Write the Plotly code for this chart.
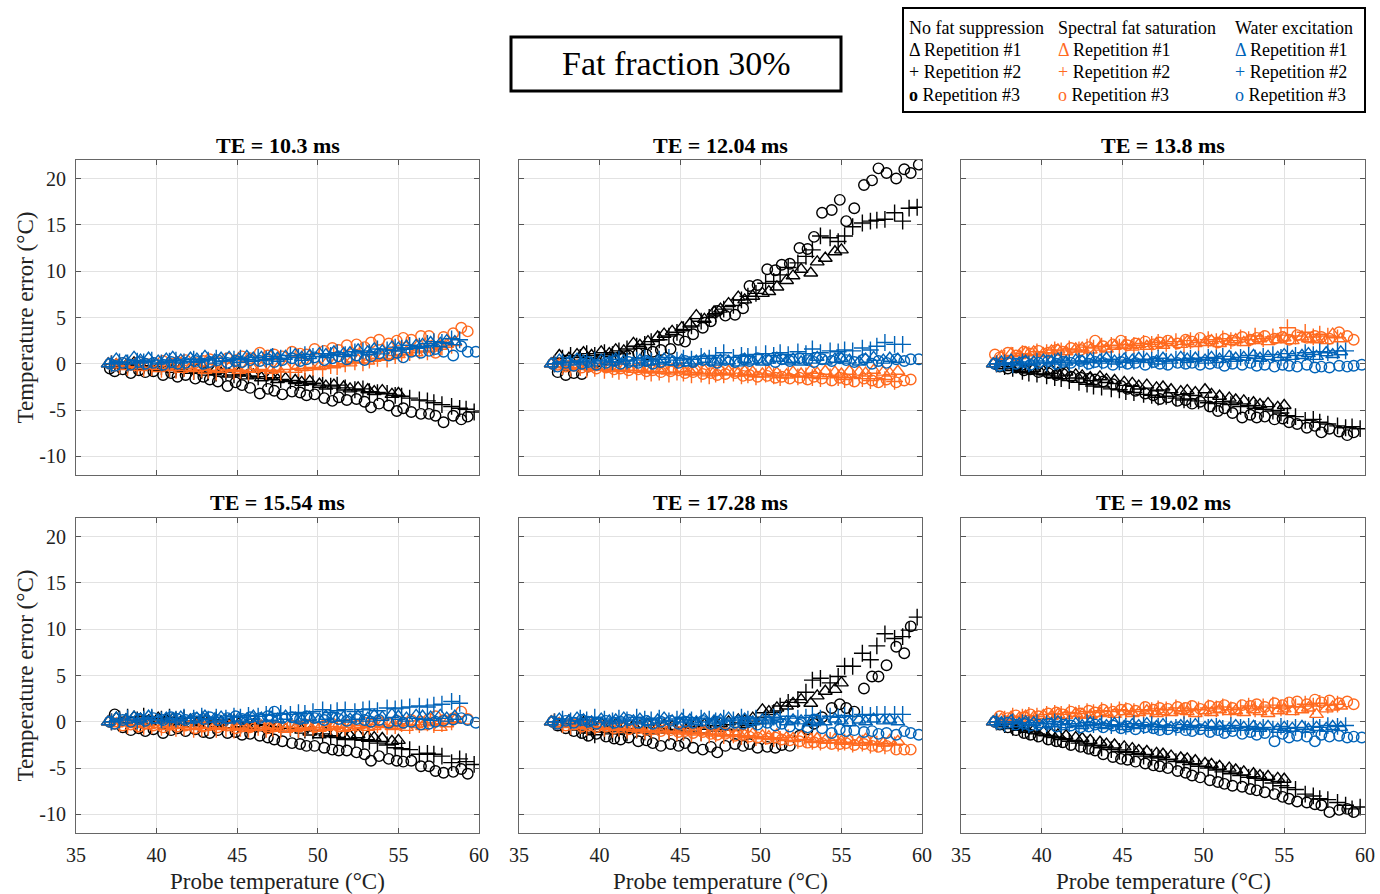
import plotly.graph_objects as go

# probe temperature samples (deg C) for the three repetitions
XA = [37.0, 37.5, 38.1, 38.6, 39.0, 39.5, 40.1, 40.6, 41.0, 41.5, 42.1, 42.5, 43.0, 43.6, 44.0, 44.5,
      45.1, 45.6, 46.0, 46.5, 47.1, 47.5, 48.0, 48.6, 49.0, 49.5, 50.1, 50.5, 51.0, 51.6, 52.0, 52.5,
      53.1, 53.5, 54.0, 54.6, 55.0, 55.5, 56.1, 56.5, 57.0, 57.6, 58.0, 58.5, 59.1, 59.5, 60.0]
XB = [37.2, 37.7, 38.2, 38.8, 39.2, 39.7, 40.3, 40.8, 41.2, 41.7, 42.3, 42.8, 43.2, 43.7, 44.3, 44.8,
      45.2, 45.7, 46.3, 46.8, 47.2, 47.7, 48.3, 48.8, 49.2, 49.7, 50.3, 50.8, 51.2, 51.7, 52.3, 52.8,
      53.2, 53.7, 54.3, 54.8, 55.2, 55.7, 56.3, 56.8, 57.2, 57.7, 58.3, 58.8, 59.2, 59.7]
XC = [37.1, 37.4, 37.9, 38.4, 38.9, 39.3, 39.8, 40.4, 40.9, 41.3, 41.8, 42.4, 42.9, 43.3, 43.8, 44.4,
      44.9, 45.3, 45.8, 46.4, 46.9, 47.3, 47.8, 48.4, 48.9, 49.3, 49.8, 50.4, 50.9, 51.3, 51.8, 52.4,
      52.9, 53.3, 53.8, 54.4, 54.9, 55.3, 55.8, 56.4, 56.9, 57.3, 57.8, 58.4, 58.9, 59.3, 59.8]

TE_TITLES = ["TE = 10.3 ms", "TE = 12.04 ms", "TE = 13.8 ms",
             "TE = 15.54 ms", "TE = 17.28 ms", "TE = 19.02 ms"]
METHODS = ["No fat suppression", "Spectral fat saturation", "Water excitation"]
REPS = ["Repetition #1", "Repetition #2", "Repetition #3"]
Y_TICKS = [-10, -5, 0, 5, 10, 15, 20]
Y_TICK_TEXT = ["-10", "-5", "0", "5", "10", "15", "20"]

# ---- TE 10.3 ms ----
TE1030_NOFS_R1 = [0.0, -0.1, -0.2, 0.1, -0.3, -0.2, -0.4, -0.3, -0.6, -0.5, -0.7, -0.6, -0.9, -0.8, -1.0, -1.1,
                  -1.0, -1.3, -1.2, -1.5, -1.4, -1.7, -1.6, -1.8, -2.0, -1.9, -2.2, -2.4, -2.3, -2.5, -2.7, -2.6,
                  -2.8, -3.0, -2.9, -3.3, -3.2]
TE1030_NOFS_R2 = [0.0, -0.2, -0.1, -0.3, -0.2, -0.4, -0.3, -0.5, -0.6, -0.5, -0.8, -0.7, -0.9, -1.0, -0.9, -1.2,
                  -1.1, -1.3, -1.4, -1.6, -1.5, -1.7, -1.8, -2.0, -1.9, -2.1, -2.3, -2.4, -2.3, -2.6, -2.8, -2.7,
                  -3.0, -3.1, -3.2, -3.4, -3.5, -3.7, -3.9, -4.0, -4.2, -4.4, -4.6, -4.8, -4.9, -5.2]
TE1030_NOFS_R3 = [-0.5, -0.8, -0.6, -1.0, -0.7, -0.9, -0.8, -1.2, -1.0, -1.4, -1.2, -1.6, -1.4, -1.7, -1.9, -2.4,
                  -2.0, -2.3, -2.6, -3.2, -2.7, -2.9, -3.3, -3.0, -3.1, -3.4, -3.3, -3.7, -4.0, -3.6, -3.9, -3.8,
                  -4.1, -4.7, -4.3, -4.5, -5.1, -4.8, -5.2, -5.4, -5.4, -5.6, -6.3, -5.6, -6.0, -5.7]
TE1030_SFS_R1 = [0.0, -0.1, -0.3, -0.1, -0.4, -0.2, -0.5, -0.3, -0.4, -0.6, -0.4, -0.5, -0.7, -0.5, -0.6, -0.4,
                 -0.7, -0.5, -0.6, -0.4, -0.7, -0.5, -0.3, -0.6, -0.4, -0.2, -0.3, 0.0, -0.1, 0.2, 0.1, 0.4,
                 0.3, 0.6, 0.7, 0.9, 1.0, 1.3, 1.2, 1.6, 1.7, 1.9, 2.1, 2.3]
TE1030_SFS_R2 = [0.0, -0.2, -0.4, -0.3, -0.5, -0.4, -0.6, -0.5, -0.7, -0.5, -0.8, -0.6, -0.7, -0.9, -0.6, -0.8,
                 -0.7, -0.9, -0.6, -0.8, -0.7, -0.9, -0.6, -0.5, -0.7, -0.4, -0.5, -0.2, -0.3, 0.0, 0.2, 0.1,
                 0.4, 0.6, 0.5, 0.9, 1.0, 1.2, 1.4, 1.3, 1.7, 1.8, 2.0]
TE1030_SFS_R3 = [0.0, -0.2, 0.1, -0.1, 0.2, 0.0, 0.1, 0.3, 0.0, 0.2, 0.4, 0.1, 0.3, 0.5, 0.2, 0.6,
                 0.4, 0.8, 0.6, 1.2, 0.9, 1.0, 0.8, 1.3, 1.1, 1.0, 1.6, 1.4, 1.7, 1.5, 2.0, 2.1,
                 1.8, 2.3, 2.6, 2.2, 2.5, 2.8, 2.6, 3.0, 3.0, 1.2, 2.9, 3.3, 3.9, 3.5]
TE1030_WE_R1 = [0.0, 0.5, 0.3, 0.7, 0.4, 0.6, 0.3, 0.5, 0.7, 0.4, 0.6, 0.5, 0.8, 0.4, 0.6, 0.7,
                0.5, 0.8, 0.6, 0.7, 0.9, 0.6, 0.8, 1.0, 0.7, 0.9, 1.1, 1.0, 1.3, 1.1, 1.2, 1.5,
                1.3, 1.6, 1.4, 1.8, 1.7, 1.9, 2.0, 2.1, 2.3, 2.2, 2.5, 2.4]
TE1030_WE_R2 = [0.0, 0.2, 0.1, 0.3, 0.2, 0.4, 0.1, 0.3, 0.4, 0.2, 0.5, 0.3, 0.4, 0.6, 0.3, 0.5,
                0.6, 0.4, 0.7, 0.5, 0.8, 0.6, 0.9, 0.7, 1.0, 0.8, 1.1, 0.9, 1.2, 1.0, 1.3, 1.4,
                1.2, 1.6, 1.5, 1.8, 1.7, 2.0, 1.9, 2.2, 2.4, 2.3, 2.7, 2.6]
TE1030_WE_R3 = [0.0, -0.2, 0.1, -0.1, 0.2, 0.0, 0.1, -0.1, 0.2, 0.0, 0.1, 0.3, 0.0, 0.2, 0.4, 0.1,
                0.3, 0.2, 0.4, 0.3, 0.5, 0.2, 0.4, 0.6, 0.3, 0.5, 0.7, 0.4, 0.6, 0.8, 0.5, 0.9,
                0.4, 0.8, 1.1, 0.9, 1.2, 0.7, 1.3, 1.2, 1.4, 1.6, 1.3, 0.9, 1.9, 1.3, 1.3]

# ---- TE 12.04 ms ----
TE1204_NOFS_R1 = [0.0, 0.9, 0.6, 1.0, 1.2, 0.9, 1.3, 1.1, 1.5, 1.4, 2.2, 2.0, 2.4, 2.9, 3.2, 3.5,
                  3.9, 4.3, 5.2, 4.8, 5.6, 5.9, 6.5, 7.2, 6.9, 7.3, 7.6, 7.8, 8.3, 9.0, 9.5, 10.2,
                  9.8, 11.0, 11.4, 12.1, 12.3]
TE1204_NOFS_R2 = [0.0, 0.6, 0.9, 0.7, 1.1, 0.9, 1.2, 1.0, 1.4, 1.6, 1.9, 2.1, 2.4, 2.6, 3.0, 3.4,
                  3.7, 4.1, 4.6, 5.0, 5.4, 5.9, 6.3, 6.9, 7.3, 7.6, 8.7, 8.9, 9.6, 10.4, 10.9, 11.6,
                  12.3, 13.8, 13.6, 13.2, 13.8, 14.8, 15.2, 15.4, 15.5, 15.6, 16.3, 15.4, 16.8, 16.9]
TE1204_NOFS_R3 = [0.0, -0.9, -1.2, -1.0, -1.1, -0.3, 0.2, 0.5, 0.4, 0.8, 0.9, 1.1, 1.0, 1.3, 1.5, 1.6,
                  2.6, 2.4, 3.2, 3.9, 4.6, 5.7, 5.2, 5.3, 6.0, 8.4, 8.5, 10.2, 10.1, 10.7, 10.8, 12.5,
                  12.4, 13.7, 16.3, 16.6, 17.7, 15.4, 16.8, 19.3, 19.8, 21.1, 20.6, 20.0, 21.0, 20.6, 21.5]
TE1204_SFS_R1 = [0.0, -0.1, -0.3, -0.2, -0.3, -0.4, -0.3, -0.5, -0.4, -0.5, -0.6, -0.4, -0.6, -0.5, -0.7, -0.6,
                 -0.5, -0.8, -0.6, -0.7, -0.9, -0.7, -0.8, -1.0, -0.8, -0.9, -1.1, -0.9, -1.0, -1.2, -0.9, -1.1,
                 -0.7, -1.0, -0.8, -0.9, -1.1, -0.8, -0.9, -1.0, -0.7, -0.9, -1.0, -0.8]
TE1204_SFS_R2 = [0.0, -0.3, -0.5, -0.4, -0.6, -0.5, -0.7, -0.6, -0.8, -0.7, -0.9, -0.8, -1.0, -0.9, -1.1, -0.9,
                 -1.0, -1.2, -1.1, -1.3, -1.1, -1.2, -1.0, -1.3, -1.2, -1.4, -1.1, -1.3, -1.5, -1.2, -1.4, -1.3,
                 -1.5, -1.6, -1.4, -1.5, -1.7, -1.5, -1.6, -1.8, -1.6, -1.7, -1.9]
TE1204_SFS_R3 = [0.0, -0.1, -0.3, -0.2, -0.4, -0.3, -0.5, -0.4, -0.6, -0.5, -0.7, -0.6, -0.8, -0.7, -0.9, -0.8,
                 -0.7, -1.0, -0.9, -1.1, -1.0, -1.2, -1.1, -1.0, -1.3, -1.2, -1.4, -1.3, -1.5, -1.4, -1.6, -1.5,
                 -1.7, -1.4, -1.6, -1.8, -1.5, -1.7, -1.9, -1.6, -1.8, -2.0, -1.7, -2.0, -1.8, -1.7]
TE1204_WE_R1 = [0.0, 0.4, 0.2, 0.5, 0.3, 0.1, 0.4, 0.2, 0.5, 0.3, 0.1, 0.4, 0.2, 0.3, 0.5, 0.2,
                0.4, 0.1, 0.3, 0.5, 0.2, 0.4, 0.3, 0.1, 0.5, 0.3, 0.2, 0.4, 0.6, 0.3, 0.5, 0.2,
                0.4, 0.7, 0.3, 0.5, 0.6, 0.4, 0.2, 0.5, 0.7, 0.4, 0.6, 0.5]
TE1204_WE_R2 = [0.0, 0.2, 0.1, 0.3, 0.2, 0.4, 0.3, 0.2, 0.5, 0.3, 0.4, 0.6, 0.3, 0.5, 0.7, 0.4,
                0.6, 0.5, 0.8, 0.6, 0.9, 1.2, 0.7, 0.9, 0.8, 1.0, 1.1, 0.9, 1.2, 1.0, 1.3, 1.1,
                1.6, 1.2, 1.4, 1.3, 1.5, 1.4, 1.7, 1.5, 1.9, 2.3, 2.1, 2.1]
TE1204_WE_R3 = [0.0, -0.3, 0.1, -0.2, 0.0, 0.2, -0.1, 0.1, 0.3, 0.0, 0.2, 0.1, 0.3, 0.0, 0.2, 0.4,
                0.1, 0.3, 0.2, 0.4, 0.3, 0.1, 0.4, 0.2, 0.5, 0.3, 0.6, 0.4, 0.2, 0.5, 0.3, 0.6,
                0.4, 0.2, 0.5, 0.3, 0.6, 0.4, 0.2, 0.5, 0.0, 0.3, 0.1, 0.5, 0.3, 0.5, 0.5]

# ---- TE 13.8 ms ----
TE1380_NOFS_R1 = [0.0, -0.2, -0.4, -0.3, -0.6, -0.5, -0.8, -0.7, -1.0, -0.9, -1.2, -1.3, -1.5, -1.4, -1.7, -1.8,
                  -2.0, -2.1, -2.4, -2.3, -2.6, -2.5, -2.8, -3.0, -2.9, -3.1, -2.8, -3.3, -3.5, -3.7, -3.9, -4.0,
                  -4.2, -4.4, -4.3, -4.7, -4.5]
TE1380_NOFS_R2 = [0.0, -0.3, -0.5, -0.8, -1.0, -1.1, -1.3, -1.5, -1.6, -1.8, -2.0, -2.2, -2.4, -2.5, -2.7, -2.8,
                  -3.0, -3.1, -3.3, -3.4, -3.6, -3.5, -3.7, -3.9, -3.8, -4.0, -4.2, -4.3, -4.1, -4.4, -4.6, -4.5,
                  -4.8, -4.9, -5.1, -5.3, -5.6, -5.7, -6.1, -6.0, -6.3, -6.5, -6.7, -6.9, -6.8, -7.0]
TE1380_NOFS_R3 = [0.0, -0.3, -0.5, -0.4, -0.7, -0.6, -0.9, -1.0, -1.2, -1.1, -1.4, -1.5, -1.6, -1.7, -1.9, -2.2,
                  -2.4, -2.7, -2.9, -3.2, -3.4, -3.8, -3.6, -4.0, -3.9, -4.3, -4.1, -4.6, -5.1, -4.8, -5.3, -5.8,
                  -5.5, -5.8, -5.7, -6.0, -5.9, -6.3, -6.5, -6.9, -6.7, -7.4, -7.0, -7.3, -7.7, -7.4]
TE1380_SFS_R1 = [0.0, 0.8, 1.1, 0.9, 1.2, 1.3, 1.1, 1.4, 1.5, 1.3, 1.6, 1.7, 1.5, 1.8, 1.6, 1.9,
                 2.0, 1.8, 2.1, 1.9, 2.2, 2.0, 2.3, 2.1, 2.4, 2.2, 2.3, 2.5, 2.2, 2.4, 2.6, 2.3,
                 2.5, 2.7, 2.4, 2.6, 2.8, 2.5, 2.9, 2.7, 2.6, 2.5, 3.2, 2.7]
TE1380_SFS_R2 = [0.0, 0.6, 0.9, 1.1, 1.0, 1.3, 1.2, 1.5, 1.4, 1.6, 1.5, 1.8, 1.7, 1.9, 2.0, 1.8,
                 2.1, 2.0, 2.2, 2.1, 2.3, 2.2, 2.4, 2.1, 2.5, 2.3, 2.6, 2.4, 2.7, 2.5, 2.8, 2.6,
                 3.0, 2.7, 2.9, 3.1, 3.9, 3.0, 3.4, 2.9, 3.2, 3.0, 2.8]
TE1380_SFS_R3 = [1.0, 0.7, 1.2, 0.9, 1.3, 1.1, 1.4, 1.2, 1.5, 1.3, 1.7, 1.5, 1.8, 2.5, 1.9, 2.1,
                 2.5, 2.0, 2.2, 2.4, 2.1, 2.3, 2.5, 2.2, 2.6, 2.4, 2.8, 2.5, 2.3, 2.7, 2.5, 2.9,
                 2.6, 2.8, 3.0, 2.7, 2.9, 2.6, 3.1, 2.8, 3.0, 2.9, 2.7, 3.4, 3.0, 2.6]
TE1380_WE_R1 = [0.0, 0.2, 0.4, 0.1, 0.3, 0.2, 0.4, 0.3, 0.5, 0.2, 0.4, 0.3, 0.5, 0.4, 0.6, 0.3,
                0.5, 0.4, 0.6, 0.5, 0.3, 0.6, 0.4, 0.7, 0.5, 0.6, 0.4, 0.7, 0.5, 0.8, 0.6, 0.7,
                0.9, 0.6, 0.8, 0.7, 1.0, 0.8, 0.9, 1.1, 0.8, 1.2, 1.0, 1.3]
TE1380_WE_R2 = [0.0, 0.1, -0.1, 0.2, 0.0, 0.3, 0.1, 0.2, 0.4, 0.1, 0.3, 0.2, 0.4, 0.3, 0.5, 0.2,
                0.4, 0.3, 0.5, 0.4, 0.6, 0.3, 0.5, 0.4, 0.6, 0.5, 0.7, 0.6, 0.8, 0.5, 0.7, 0.9,
                0.6, 0.8, 1.0, 0.7, 1.1, 0.9, 1.2, 1.0, 1.3, 1.2, 1.4, 1.4]
TE1380_WE_R3 = [0.0, -0.2, 0.1, 0.0, 0.2, -0.1, 0.1, 0.3, 0.0, 0.2, 0.1, 0.3, 0.0, 0.2, 0.1, -0.1,
                0.2, 0.0, 0.1, -0.1, 0.2, 0.0, -0.1, 0.1, 0.0, 0.1, -0.1, 0.0, 0.1, -0.2, 0.0, -0.1,
                0.1, -0.2, -0.1, -0.3, -0.1, -0.2, -0.3, -0.1, -0.4, -0.3, -0.4, -0.2, -0.3, -0.2, -0.1]

# ---- TE 15.54 ms ----
TE1554_NOFS_R1 = [0.0, 0.4, 0.2, 0.5, 0.3, 0.1, 0.4, 0.2, 0.3, 0.0, 0.2, -0.1, 0.1, -0.2, 0.0, -0.3,
                  -0.2, -0.4, -0.3, -0.5, -0.6, -0.5, -0.8, -0.7, -0.9, -1.1, -1.4, -1.2, -1.3, -1.5, -1.5, -1.4,
                  -1.6, -1.7, -1.8, -2.1, -2.0]
TE1554_NOFS_R2 = [0.0, 0.3, 0.5, 0.2, 0.6, 0.4, 0.3, 0.5, 0.2, 0.4, 0.1, 0.3, 0.0, 0.2, -0.1, 0.0,
                  -0.2, -0.1, -0.3, -0.4, -0.5, -0.6, -0.7, -0.8, -0.9, -1.0, -1.3, -1.5, -1.7, -1.9, -1.9, -2.0,
                  -2.1, -2.3, -2.5, -2.8, -2.9, -3.0, -3.5, -3.4, -3.5, -3.7, -4.4, -4.0, -4.3, -4.6]
TE1554_NOFS_R3 = [0.0, 0.8, -0.6, -0.9, -0.7, -1.0, -0.8, -1.2, -0.9, -0.7, -1.0, -0.8, -1.1, -1.2, -0.9, -1.2,
                  -1.1, -1.4, -1.3, -1.5, -1.7, -1.9, -2.1, -2.3, -2.4, -2.6, -2.6, -2.8, -3.0, -3.1, -3.1, -3.3,
                  -3.5, -4.2, -3.7, -4.0, -4.2, -4.3, -4.2, -4.8, -4.8, -5.3, -5.5, -5.4, -5.1, -5.6]
TE1554_SFS_R1 = [0.0, -0.2, -0.1, -0.3, -0.2, -0.4, -0.3, -0.5, -0.4, -0.3, -0.5, -0.4, -0.6, -0.5, -0.4, -0.6,
                 -0.5, -0.7, -0.6, -0.5, -0.7, -0.6, -0.8, -0.7, -0.6, -0.5, -0.7, -0.6, -0.5, -0.7, -0.6, -0.4,
                 -0.6, -0.5, -0.3, -0.5, -0.4, -0.6, -0.3, -0.5, -0.1, -0.6, -0.2, 0.2]
TE1554_SFS_R2 = [0.0, -0.2, -0.4, -0.3, -0.5, -0.4, -0.6, -0.5, -0.7, -0.6, -0.8, -0.7, -0.6, -0.8, -0.7, -0.9,
                 -0.7, -0.8, -0.6, -0.8, -0.7, -0.9, -0.6, -0.8, -0.7, -0.6, -0.8, -0.5, -0.7, -0.6, -0.4, -0.6,
                 -0.5, -0.3, -0.5, -0.4, -0.2, -0.4, -0.3, -0.1, -0.3, -0.2, 0.0]
TE1554_SFS_R3 = [0.0, -0.2, -0.4, -0.3, -0.5, -0.2, -0.4, -0.6, -0.3, -0.5, -0.4, -0.7, -0.5, -0.3, -0.6, -0.4,
                 -0.7, -0.5, -0.6, -0.4, -0.7, -0.5, -0.6, -0.4, -0.5, -0.3, -0.6, -0.4, -0.2, -0.5, -0.3, -0.4,
                 -0.1, -0.3, 0.0, -0.2, 0.1, -0.1, 0.2, 0.0, 0.3, 0.6, 0.2, 0.4, 1.1, 0.3]
TE1554_WE_R1 = [0.0, 0.4, 0.2, 0.5, 0.3, 0.6, 0.2, 0.4, 0.3, 0.5, 0.2, 0.4, 0.6, 0.3, 0.5, 0.2,
                0.4, 0.3, 0.6, 0.4, 0.5, 0.3, 0.6, 0.4, 0.2, 0.5, 0.3, 0.6, 0.4, 0.5, 0.3, 0.6,
                0.4, 0.7, 0.5, 0.8, 0.6, 0.4, 0.7, 0.6, 0.5, 0.7, 0.4, 0.6]
TE1554_WE_R2 = [0.0, 0.2, 0.4, 0.1, 0.3, 0.5, 0.2, 0.4, 0.3, 0.5, 0.4, 0.6, 0.3, 0.5, 0.4, 0.6,
                0.5, 0.7, 0.6, 0.8, 0.7, 0.9, 0.8, 1.0, 0.9, 1.1, 1.3, 1.0, 1.2, 1.3, 1.1, 1.3,
                1.4, 1.2, 1.5, 1.4, 1.5, 1.6, 1.7, 1.6, 1.8, 1.9, 2.2, 2.0]
TE1554_WE_R3 = [0.0, -0.2, 0.2, 0.0, 0.3, 0.1, 0.4, 0.2, 0.5, 0.3, 0.2, 0.4, 0.3, 0.5, 0.2, 0.4,
                0.6, 0.3, 0.5, 0.4, 0.6, 1.1, 0.4, 0.5, 0.3, 0.6, 0.4, 0.2, 0.5, 0.3, 0.1, 0.3,
                0.2, 0.0, 0.2, -0.1, 0.1, -0.1, 0.0, -0.3, -0.2, 0.0, 0.1, 0.25, 0.4, 0.2, -0.1]

# ---- TE 17.28 ms ----
TE1728_NOFS_R1 = [0.0, -0.2, 0.1, -0.3, -0.1, -0.4, -0.2, -0.5, -0.3, -0.6, -0.4, -0.5, -0.3, -0.6, -0.4, -0.5,
                  -0.3, -0.4, -0.2, -0.3, -0.1, -0.2, 0.0, 0.2, 0.1, 0.4, 1.3, 1.1, 1.5, 1.7, 2.0, 2.4,
                  2.0, 2.8, 3.3, 3.5, 4.2]
TE1728_NOFS_R2 = [0.0, -0.3, -0.6, -0.9, -1.2, -1.4, -1.1, -1.3, -1.0, -1.2, -0.9, -1.1, -1.3, -1.0, -1.2, -0.9,
                  -1.1, -1.0, -1.2, -0.8, -1.0, -0.8, -0.9, -0.6, -0.4, -0.2, 0.5, 1.0, 1.7, 2.1, 2.4, 3.2,
                  4.5, 4.7, 4.2, 4.9, 6.0, 6.0, 7.4, 6.7, 8.2, 9.5, 9.0, 9.2, 9.9, 11.3]
TE1728_NOFS_R3 = [0.0, -0.4, -0.7, -1.0, -1.2, -1.5, -1.3, -1.6, -1.8, -1.9, -1.7, -2.1, -2.0, -2.3, -2.6, -2.4,
                  -2.6, -2.3, -2.8, -3.0, -2.7, -3.3, -2.6, -2.4, -2.6, -2.4, -2.8, -2.7, -2.8, -2.5, -2.6, -1.5,
                  -0.8, -0.2, 0.5, 1.5, 1.9, 1.5, 1.1, 3.6, 4.9, 4.9, 6.1, 8.1, 7.4, 10.3]
TE1728_SFS_R1 = [0.0, -0.2, -0.3, -0.2, -0.4, -0.3, -0.5, -0.4, -0.6, -0.5, -0.7, -0.6, -0.8, -0.7, -0.9, -0.8,
                 -1.0, -0.9, -1.1, -1.0, -1.2, -1.1, -1.3, -1.2, -1.4, -1.3, -1.5, -1.6, -1.4, -1.7, -1.8, -1.6,
                 -1.9, -1.8, -2.0, -1.9, -2.1, -2.0, -2.2, -1.9, -2.1, -2.3, -2.0, -2.1]
TE1728_SFS_R2 = [0.0, -0.3, -0.5, -0.4, -0.6, -0.5, -0.7, -0.8, -0.7, -0.9, -0.8, -1.0, -0.9, -1.1, -1.0, -1.2,
                 -1.1, -1.3, -1.2, -1.4, -1.3, -1.5, -1.4, -1.6, -1.5, -1.7, -1.6, -1.8, -1.9, -1.7, -2.0, -1.9,
                 -2.1, -2.2, -2.0, -2.3, -2.2, -2.4, -2.3, -2.5, -2.4, -2.6, -2.5]
TE1728_SFS_R3 = [0.0, -0.2, -0.4, -0.3, -0.5, -0.4, -0.6, -0.5, -0.7, -0.6, -0.8, -0.7, -0.9, -0.8, -1.0, -0.9,
                 -1.1, -1.0, -1.2, -1.1, -1.3, -1.4, -1.3, -1.5, -1.4, -1.6, -1.7, -1.8, -1.7, -1.9, -2.0, -2.1,
                 -2.25, -2.2, -2.3, -2.4, -2.4, -2.3, -2.5, -2.4, -2.6, -2.7, -2.6, -3.0, -3.0, -3.0]
TE1728_WE_R1 = [0.0, 0.3, 0.1, 0.4, 0.2, 0.0, 0.3, 0.1, 0.2, 0.4, 0.1, 0.3, 0.0, 0.2, 0.4, 0.1,
                0.3, 0.2, 0.0, 0.3, 0.1, 0.2, 0.4, 0.1, 0.3, 0.0, 0.2, 0.1, 0.3, 0.0, 0.2, 0.1,
                -0.1, 0.2, 0.0, 0.3, 0.1, -0.1, 0.2, 0.0, 0.3, 0.1, 0.2, 0.0]
TE1728_WE_R2 = [0.0, 0.3, 0.1, 0.4, 0.2, 0.5, 0.3, 0.1, 0.4, 0.2, 0.5, 0.3, 0.2, 0.4, 0.1, 0.3,
                0.5, 0.2, 0.4, 0.3, 0.1, 0.4, 0.2, 0.5, 0.3, 0.4, 0.2, 0.5, 0.3, 0.6, 0.4, 0.5,
                0.7, 0.4, 0.6, 0.5, 0.7, 0.6, 0.8, 0.7, 0.8, 0.8, 0.8, 0.8]
TE1728_WE_R3 = [0.0, -0.2, 0.1, -0.1, 0.2, 0.0, -0.2, 0.1, -0.1, 0.0, 0.2, -0.1, 0.1, -0.2, 0.0, 0.1,
                -0.2, 0.0, -0.1, 0.1, -0.2, 0.0, -0.3, -0.1, -0.2, 0.0, -0.3, -0.1, -0.4, -0.2, -0.5, -0.3,
                -0.6, 0.25, -0.7, -1.2, -0.8, -1.0, -0.9, -1.1, -1.0, -1.3, -1.2, -1.4, -1.0, -1.2, -1.4]

# ---- TE 19.02 ms ----
TE1902_NOFS_R1 = [0.0, -0.2, -0.4, -0.6, -0.8, -0.9, -1.1, -1.3, -1.4, -1.5, -1.7, -1.8, -2.0, -2.2, -2.4, -2.5,
                  -2.7, -2.9, -3.1, -3.2, -3.4, -3.5, -3.7, -3.9, -4.0, -4.2, -4.5, -4.6, -4.8, -5.0, -5.2, -5.4,
                  -5.6, -5.8, -5.9, -6.1, -6.2]
TE1902_NOFS_R2 = [0.0, -0.3, -0.6, -0.8, -1.0, -1.3, -1.5, -1.7, -1.9, -2.1, -2.3, -2.5, -2.6, -2.8, -3.0, -3.2,
                  -3.3, -3.5, -3.7, -3.8, -3.9, -4.1, -4.3, -4.4, -4.6, -4.8, -5.0, -5.2, -5.4, -5.6, -5.8, -6.0,
                  -6.1, -6.3, -6.6, -6.9, -7.1, -7.3, -7.8, -8.0, -8.3, -8.4, -8.7, -9.0, -9.4, -9.2]
TE1902_NOFS_R3 = [0.0, -0.3, -0.6, -0.9, -1.2, -1.4, -1.6, -1.9, -2.1, -2.2, -2.5, -2.7, -2.9, -3.1, -3.5, -3.8,
                  -4.0, -4.1, -4.3, -4.5, -4.7, -4.8, -5.0, -5.3, -5.5, -5.8, -6.0, -6.3, -6.5, -6.7, -6.9, -7.0,
                  -7.25, -7.4, -7.6, -7.8, -8.1, -8.3, -8.6, -8.7, -8.9, -9.0, -9.75, -9.5, -9.4, -9.75]
TE1902_SFS_R1 = [0.0, 0.3, 0.5, 0.4, 0.6, 0.5, 0.7, 0.6, 0.8, 0.7, 0.9, 0.8, 0.7, 0.9, 1.0, 0.8,
                 1.1, 0.9, 1.0, 1.2, 0.9, 1.1, 1.0, 1.2, 1.1, 0.9, 1.2, 1.0, 1.3, 1.1, 1.2, 1.0,
                 1.3, 1.1, 0.9, 1.2, 1.4, 1.1, 1.3, 1.5, 0.8, 1.4, 1.6, 1.7]
TE1902_SFS_R2 = [0.0, 0.3, 0.6, 0.5, 0.7, 0.6, 0.8, 0.9, 0.8, 1.0, 0.9, 1.1, 1.0, 1.2, 1.1, 1.3,
                 1.2, 1.1, 1.3, 1.2, 1.4, 1.3, 1.5, 1.2, 1.4, 1.3, 1.5, 1.4, 1.6, 1.3, 1.5, 1.7,
                 1.4, 1.6, 1.8, 1.5, 1.7, 1.6, 1.9, 1.7, 2.0, 1.8, 1.9]
TE1902_SFS_R3 = [0.0, 0.6, 0.4, 0.7, 0.5, 0.8, 0.6, 0.9, 1.0, 0.8, 1.1, 0.9, 1.2, 1.0, 1.3, 1.1,
                 1.3, 1.4, 1.2, 1.6, 1.3, 1.5, 1.4, 1.6, 1.5, 1.7, 1.4, 1.7, 1.6, 1.8, 1.5, 1.8,
                 1.7, 1.9, 1.6, 2.0, 1.8, 2.1, 2.2, 1.9, 2.4, 2.1, 2.3, 2.0, 2.2, 1.9]
TE1902_WE_R1 = [0.0, -0.1, 0.1, -0.2, 0.0, -0.1, -0.3, -0.2, 0.0, -0.3, -0.2, -0.4, -0.1, -0.3, -0.4, -0.2,
                -0.5, -0.3, -0.4, -0.2, -0.5, -0.3, -0.6, -0.4, -0.5, -0.3, -0.6, -0.4, -0.5, -0.7, -0.4, -0.6,
                -0.5, -0.7, -0.5, -0.8, -0.6, -0.7, -0.5, -0.8, -0.6, -0.7, -0.5, -0.6]
TE1902_WE_R2 = [0.0, -0.2, 0.0, -0.1, -0.3, -0.1, -0.2, 0.0, -0.3, -0.2, -0.4, -0.1, -0.3, -0.2, -0.4, -0.3,
                -0.5, -0.2, -0.4, -0.3, -0.5, -0.4, -0.6, -0.3, -0.5, -0.4, -0.6, -0.5, -0.7, -0.4, -0.6, -0.5,
                -0.7, -0.6, -0.8, -0.5, -0.7, -0.6, -0.8, -0.5, -0.6, -0.4, -0.5, -0.4]
TE1902_WE_R3 = [0.0, -0.2, -0.1, -0.3, -0.2, -0.4, -0.3, -0.2, -0.5, -0.3, -0.4, -0.6, -0.5, -0.3, -0.6, -0.4,
                -0.7, -0.5, -0.8, -0.6, -0.7, -0.9, -0.8, -0.6, -0.9, -1.0, -0.8, -1.1, -0.9, -1.2, -1.0, -1.3,
                -1.1, -1.4, -1.2, -2.1, -1.3, -1.7, -1.5, -1.6, -2.1, -1.4, -1.6, -1.5, -1.7, -1.6, -1.7]

PANELS = [
    [(TE1030_NOFS_R1, TE1030_NOFS_R2, TE1030_NOFS_R3), (TE1030_SFS_R1, TE1030_SFS_R2, TE1030_SFS_R3),
     (TE1030_WE_R1, TE1030_WE_R2, TE1030_WE_R3)],
    [(TE1204_NOFS_R1, TE1204_NOFS_R2, TE1204_NOFS_R3), (TE1204_SFS_R1, TE1204_SFS_R2, TE1204_SFS_R3),
     (TE1204_WE_R1, TE1204_WE_R2, TE1204_WE_R3)],
    [(TE1380_NOFS_R1, TE1380_NOFS_R2, TE1380_NOFS_R3), (TE1380_SFS_R1, TE1380_SFS_R2, TE1380_SFS_R3),
     (TE1380_WE_R1, TE1380_WE_R2, TE1380_WE_R3)],
    [(TE1554_NOFS_R1, TE1554_NOFS_R2, TE1554_NOFS_R3), (TE1554_SFS_R1, TE1554_SFS_R2, TE1554_SFS_R3),
     (TE1554_WE_R1, TE1554_WE_R2, TE1554_WE_R3)],
    [(TE1728_NOFS_R1, TE1728_NOFS_R2, TE1728_NOFS_R3), (TE1728_SFS_R1, TE1728_SFS_R2, TE1728_SFS_R3),
     (TE1728_WE_R1, TE1728_WE_R2, TE1728_WE_R3)],
    [(TE1902_NOFS_R1, TE1902_NOFS_R2, TE1902_NOFS_R3), (TE1902_SFS_R1, TE1902_SFS_R2, TE1902_SFS_R3),
     (TE1902_WE_R1, TE1902_WE_R2, TE1902_WE_R3)],
]

COLORS = ["#000000", "#FF6A1F", "#0063B8"]
SYMBOLS = ["triangle-up-open", "cross-thin-open", "circle-open"]
SIZES = [12, 12, 10.5]
REP_X = [XA, XB, XC]

FONT = "Liberation Serif, Times New Roman, serif"
W, H = 1380, 894

# panel placement in pixels (left, right) / (top, bottom)
COLS_PX = [(76, 479), (519, 922), (961, 1365)]
ROWS_PX = [(160, 475), (518, 833)]


def px(x):
    return x / W


def py(y):
    return 1 - y / H


fig = go.Figure()

for i, panel in enumerate(PANELS):
    n = i + 1
    for m, reps in enumerate(panel):
        for r, ys in enumerate(reps):
            fig.add_trace(go.Scatter(
                x=REP_X[r][:len(ys)], y=ys, mode="markers",
                name=f"{METHODS[m]} {REPS[r]}", showlegend=False,
                xaxis=f"x{n}", yaxis=f"y{n}",
                marker=dict(symbol=SYMBOLS[r], size=SIZES[r], color=COLORS[m],
                            line=dict(width=1.4, color=COLORS[m])),
            ))

axis_common = dict(ticks="inside", ticklen=5, tickcolor="#555555", showline=True, mirror="ticks",
                   linecolor="#666666", linewidth=1, showgrid=True, gridcolor="#e2e2e2",
                   gridwidth=1, zeroline=False, automargin=False,
                   tickfont=dict(family=FONT, size=20, color="#222222"))


def note(text, x, y, size, xanchor="center", angle=0, color="#000000"):
    return dict(text=text, x=px(x), y=py(y), xref="paper", yref="paper", showarrow=False,
                xanchor=xanchor, yanchor="middle", textangle=angle,
                font=dict(family=FONT, size=size, color=color))


layout_axes = {}
annotations = []
for i in range(6):
    n = i + 1
    row, col = divmod(i, 3)
    x0, x1 = COLS_PX[col]
    y0, y1 = ROWS_PX[row]
    suffix = "" if n == 1 else str(n)
    layout_axes["xaxis" + suffix] = dict(axis_common, domain=[px(x0), px(x1)], range=[35, 60],
                                         tick0=35, dtick=5, anchor="y" + suffix,
                                         ticklabelstandoff=4, showticklabels=(row == 1))
    layout_axes["yaxis" + suffix] = dict(axis_common, domain=[py(y1), py(y0)], range=[-12, 22],
                                         tickvals=Y_TICKS, ticktext=Y_TICK_TEXT, anchor="x" + suffix,
                                         ticklabelstandoff=5, showticklabels=(col == 0))
    annotations.append(note(f"<b>{TE_TITLES[i]}</b>", (x0 + x1) / 2, y0 - 15, 22))
    if col == 0:
        annotations.append(note("Temperature error (°C)", 25, (y0 + y1) / 2, 23, angle=-90,
                                color="#222222"))
    if row == 1:
        annotations.append(note("Probe temperature (°C)", (x0 + x1) / 2, 881, 23, color="#222222"))

# title box
annotations.append(note("Fat fraction 30%", 676, 64, 34))

# hand-made legend box
LEG_X = [907, 1056, 1233]
LEG_Y = [28, 50, 72, 95]
GLYPHS = ["Δ", "+", "o"]
for m in range(3):
    annotations.append(note(METHODS[m], LEG_X[m], LEG_Y[0], 18, xanchor="left"))
    for r in range(3):
        g = GLYPHS[r]
        if m == 0 and r == 2:
            g = "<b>o</b>"
        txt = f"<span style='color:{COLORS[m]}'>{g}</span> {REPS[r]}"
        annotations.append(note(txt, LEG_X[m], LEG_Y[r + 1], 18, xanchor="left"))

shapes = [
    dict(type="rect", xref="paper", yref="paper", x0=px(511), x1=px(841), y0=py(91), y1=py(37),
         line=dict(color="#000000", width=3)),
    dict(type="rect", xref="paper", yref="paper", x0=px(903), x1=px(1365), y0=py(112), y1=py(8),
         line=dict(color="#000000", width=2)),
]

fig.update_layout(width=W, height=H, margin=dict(l=0, r=0, t=0, b=0, autoexpand=False),
                  paper_bgcolor="white", plot_bgcolor="white",
                  annotations=annotations, shapes=shapes, **layout_axes)

# drop the default page margin so the figure sits at the window's top-left corner
fig.write_html("out.html", config={"displayModeBar": False},
               post_script="document.body.style.margin='0px';")
